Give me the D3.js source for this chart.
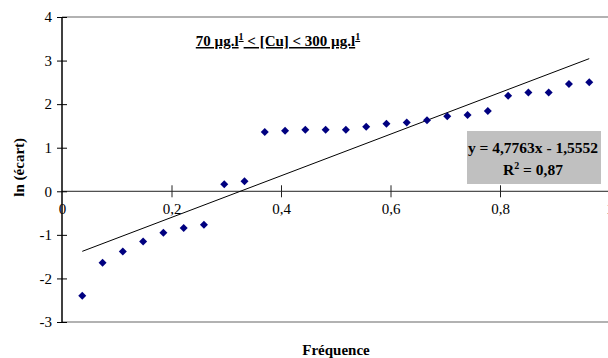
<!DOCTYPE html>
<html>
<head>
<meta charset="utf-8">
<script src="https://cdn.jsdelivr.net/npm/d3@7"></script>
<style>
  body { margin: 0; background: #fff; }
  svg { display: block; font-family: "Liberation Serif", "Times New Roman", serif; }
</style>
</head>
<body>
<svg id="chart" width="608" height="358"></svg>
<script>
// valeurs
var frequences = d3.range(1, 27).map(i => i / 27)
var lnEcart = [-2.40, -1.64, -1.38, -1.15, -0.95, -0.84, -0.77, 0.16, 0.23, 1.36,
               1.39, 1.41, 1.41, 1.41, 1.48, 1.55, 1.58, 1.63, 1.72, 1.75,
               1.84, 2.19, 2.27, 2.27, 2.46, 2.50]
var xTicks = [0, 0.2, 0.4, 0.6, 0.8, 1]
var yTicks = [-3, -2, -1, 0, 1, 2, 3, 4]
var pente = 4.7763, origine = -1.5552, r2 = 0.87

var data = frequences.map((f, i) => ({f: f, v: lnEcart[i]}))

var svg = d3.select('#chart')
var width = 608, height = 358
var margin = ({top: 17, right: -1.5, bottom: 36, left: 62})

var x = d3.scaleLinear()
    .domain([0, 1])
    .range([margin.left, width - margin.right])

var y = d3.scaleLinear()
    .domain([-3, 4])
    .range([height - margin.bottom, margin.top])

// format "à la française" : virgule décimale, tiret simple pour le moins
var fmt = d => String(d).replace('.', ',')

// bordures haut / bas de la zone de tracé
svg.append('line')
    .attr('x1', x(0)).attr('x2', width)
    .attr('y1', y(4)).attr('y2', y(4))
    .attr('stroke', '#999').attr('stroke-width', 1.5)
svg.append('line')
    .attr('x1', x(0)).attr('x2', width)
    .attr('y1', y(-3)).attr('y2', y(-3))
    .attr('stroke', '#999').attr('stroke-width', 1.5)

// axe x (passe par y = 0)
svg.append('line')
    .attr('x1', x(0)).attr('x2', width)
    .attr('y1', y(0)).attr('y2', y(0))
    .attr('stroke', '#222').attr('stroke-width', 1)

var xAxis = svg.append('g')
    .attr('transform', `translate(0,${y(0) - 6})`)
    .call(d3.axisBottom(x).tickValues(xTicks).tickSize(12).tickFormat(fmt))
xAxis.select('.domain').remove()
xAxis.selectAll('.tick line').attr('stroke', '#222')
xAxis.selectAll('.tick text')
    .attr('y', 24).attr('dy', '0.32em')
    .attr('font-size', '15px').attr('font-family', 'Liberation Serif').attr('fill', '#000')
xAxis.selectAll('.tick').filter(d => d === 0).select('line').remove()

// axe y
svg.append('line')
    .attr('x1', x(0)).attr('x2', x(0))
    .attr('y1', y(4)).attr('y2', y(-3))
    .attr('stroke', '#000').attr('stroke-width', 1.5)

var yAxis = svg.append('g')
    .attr('transform', `translate(${x(0) + 5},0)`)
    .call(d3.axisLeft(y).tickValues(yTicks).tickSize(10).tickPadding(5).tickFormat(fmt))
yAxis.select('.domain').remove()
yAxis.selectAll('.tick line').attr('stroke', '#000')
yAxis.selectAll('.tick text')
    .attr('font-size', '15px').attr('font-family', 'Liberation Serif').attr('fill', '#000')

// droite de tendance
var f0 = d3.min(frequences), f1 = d3.max(frequences)
svg.append('line')
    .attr('x1', x(f0)).attr('y1', y(pente * f0 + origine))
    .attr('x2', x(f1)).attr('y2', y(pente * f1 + origine))
    .attr('stroke', '#000').attr('stroke-width', 1)

// points
svg.append('g').selectAll('path')
    .data(data)
    .enter().append('path')
    .attr('d', 'M0,-4L4,0L0,4L-4,0Z')
    .attr('transform', d => `translate(${x(d.f)},${y(d.v)})`)
    .attr('fill', '#000080')

// titre
var titre = svg.append('text')
    .attr('x', 278).attr('y', 46)
    .attr('text-anchor', 'middle')
    .attr('font-size', '15px').attr('font-weight', 'bold')
    .attr('text-decoration', 'underline')
titre.append('tspan').text('70 µg.l')
titre.append('tspan').attr('dy', -6).attr('font-size', '10px').text('1')
titre.append('tspan').attr('dy', 6).text(' < [Cu] < 300 µg.l')
titre.append('tspan').attr('dy', -6).attr('font-size', '10px').text('1')

// boîte de l'équation
svg.append('rect')
    .attr('x', 467).attr('y', 131)
    .attr('width', 134).attr('height', 53)
    .attr('fill', '#c0c0c0')
svg.append('text')
    .attr('x', 533).attr('y', 153)
    .attr('text-anchor', 'middle')
    .attr('font-size', '15.5px').attr('font-weight', 'bold')
    .text('y = ' + fmt(pente) + 'x - ' + fmt(-origine))
var r2txt = svg.append('text')
    .attr('x', 533).attr('y', 175)
    .attr('text-anchor', 'middle')
    .attr('font-size', '15.5px').attr('font-weight', 'bold')
r2txt.append('tspan').text('R')
r2txt.append('tspan').attr('dy', -6).attr('font-size', '10px').text('2')
r2txt.append('tspan').attr('dy', 6).text(' = ' + fmt(r2))

// titres des axes
svg.append('text')
    .attr('transform', `translate(24,${y(0.55)}) rotate(-90)`)
    .attr('text-anchor', 'middle')
    .attr('font-size', '15px').attr('font-weight', 'bold')
    .text('ln (écart)')
svg.append('text')
    .attr('x', 336).attr('y', 355)
    .attr('text-anchor', 'middle')
    .attr('font-size', '15px').attr('font-weight', 'bold')
    .text('Fréquence')
</script>
</body>
</html>
